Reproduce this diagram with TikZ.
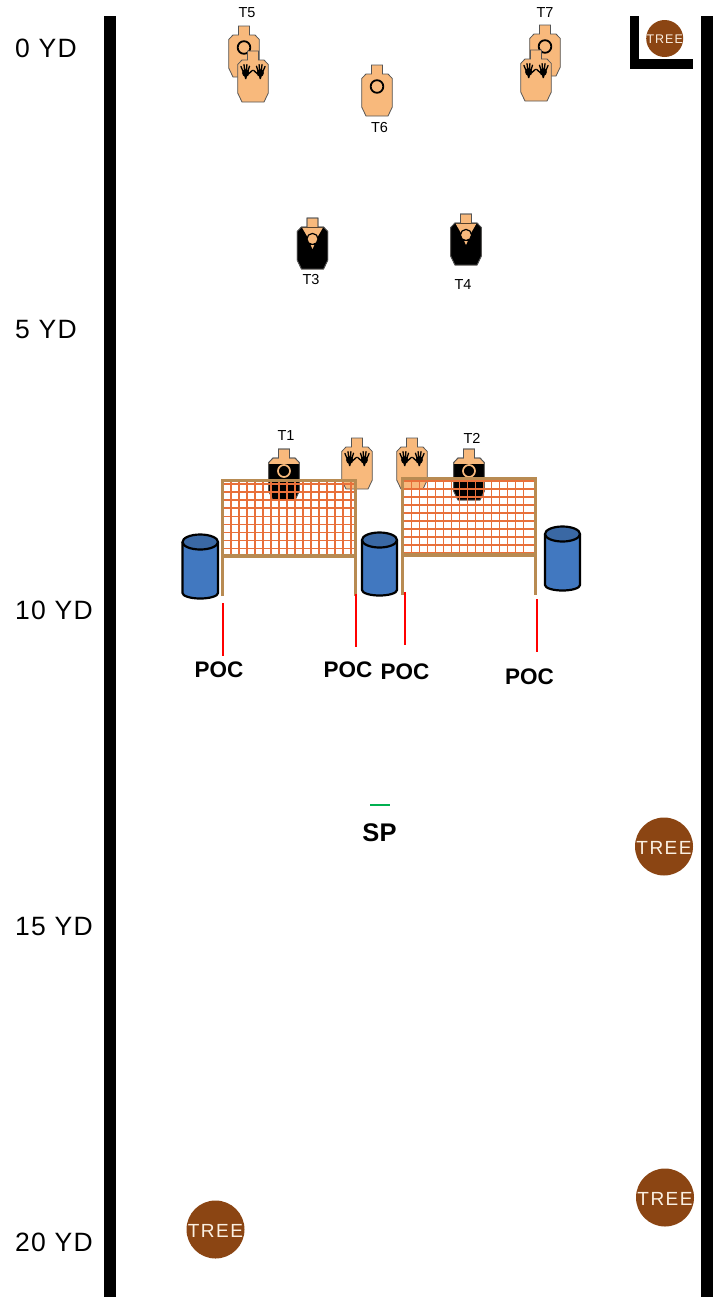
\documentclass[tikz,border=0pt]{standalone}
\usepackage{fontspec}
\setmainfont{Liberation Sans}
\newfontfamily\treefont[LetterSpace=8]{Liberation Sans}
\newfontfamily\yardfont[LetterSpace=5]{Liberation Sans}
\definecolor{peach}{HTML}{F8B97C}
\definecolor{outl}{HTML}{555555}
\definecolor{tan1}{HTML}{B88B52}
\definecolor{netc}{HTML}{E8703A}
\definecolor{barrel}{HTML}{4178C0}
\definecolor{barreltop}{HTML}{3A68A4}
\definecolor{treec}{HTML}{8B4513}
\definecolor{treet}{HTML}{FBF0E2}
\tikzset{
  wall/.style={fill=black,draw=none},
  yard/.style={anchor=west,inner sep=0pt,font=\yardfont\fontsize{26.5}{30}\selectfont},
  tlabel/.style={inner sep=0pt,font=\fontsize{14.5}{16}\selectfont},
  poc/.style={inner sep=0pt,font=\bfseries\fontsize{22.5}{26}\selectfont},
  post/.style={draw=tan1,line width=3.8pt},
  netline/.style={draw=netc,line width=1.5pt},
  redline/.style={draw=red,line width=1.9pt},
  barrelbody/.style={draw=black,line width=2.2pt,fill=barrel},
  treedisc/.style={circle,fill=treec,inner sep=0pt,text=treet,minimum size=58pt,font=\treefont\fontsize{19}{22}\selectfont},
  treesmall/.style={circle,fill=treec,inner sep=0pt,text=treet,minimum size=37pt,font=\treefont\fontsize{12.5}{15}\selectfont},
}
\def\bodypath{(-5.5,0) -- (5.5,0) -- (5.5,9) -- (11,9) -- (15.3,13.5) -- (15.3,42) -- (11,51) -- (-11,51) -- (-15.3,42) -- (-15.3,13.5) -- (-11,9) -- (-5.5,9) -- cycle}
\newcommand{\tgtbody}[2]{\draw[outl,line width=.8pt,fill=peach,shift={(#1,#2)}] \bodypath;}
\newcommand{\tgtplain}[2]{\tgtbody{#1}{#2}
  \draw[black,line width=1.8pt] (#1,#2+21.5) circle (6.3);}
\newcommand{\handglyph}[3]{\begin{scope}[shift={(#1,#2)},xscale=#3]
  \fill[black] (0,2) ellipse (3.6 and 3.8);
  \fill[black] (-2,3) -- (2,3) -- (0.6,8) -- (-0.6,8) -- cycle;
  \draw[black,line width=1.3pt,line cap=round] (-2.4,1) -- (-4.8,-4.6) (-1,0) -- (-1.7,-6.4) (.7,0) -- (1.2,-6.4) (2,1) -- (3.8,-4.8) (2.8,3) -- (6.6,-.6);
\end{scope}}
\newcommand{\tgthands}[2]{\tgtbody{#1}{#2}
  \handglyph{#1-7.3}{#2+20}{1}
  \handglyph{#1+7.3}{#2+20}{-1}}
\newcommand{\tgtvest}[2]{\tgtbody{#1}{#2}
  \begin{scope}[shift={(#1,#2)}]
  \begin{scope}\clip \bodypath; \fill[black] (-16,9) rectangle (16,52); \end{scope}
  \fill[peach] (-10.5,9.5) -- (10.5,9.5) -- (5,19) -- (-5,19) -- cycle;
  \draw[black,line width=1.2pt,fill=peach] (0,21) circle (5.6);
  \fill[peach] (-1.8,27) -- (1.8,27) -- (0,31) -- cycle;
  \draw[outl,line width=.8pt] \bodypath;
  \end{scope}}
\newcommand{\tgtcam}[2]{\tgtbody{#1}{#2}
  \begin{scope}[shift={(#1,#2)}]
  \begin{scope}\clip \bodypath; \fill[black] (-16,15) rectangle (16,52); \end{scope}
  \draw[outl,line width=.8pt] \bodypath;
  \draw[peach,line width=1.7pt] (0,22) circle (6);
  \end{scope}}
\newcommand{\barrelshape}[4]{% xl xr ytop ybot
  \draw[barrelbody] (#1,#3) -- (#1,#4-5) arc[start angle=180,end angle=0,x radius={(#2-#1)/2},y radius=5.5] -- (#2,#3);
  \draw[barrelbody,fill=barreltop] ({(#1+#2)/2},#3) ellipse ({(#2-#1)/2} and 7.5);}
\begin{document}
\begin{tikzpicture}[x=1pt,y=-1pt]
\useasboundingbox (0,0) rectangle (715,1301);
\fill[white] (0,0) rectangle (715,1301);
% walls
\fill[wall] (104,16) rectangle (116,1297);
\fill[wall] (701.3,16) rectangle (713,1297);
\fill[wall] (629.5,16) rectangle (639.3,68.7);
\fill[wall] (639.3,58.7) rectangle (692.7,68.7);
% yard labels
\node[yard] (y0) at (15,48.4) {0 YD};
\node[yard] (y5) at (15,329.6) {5 YD};
\node[yard] (y10) at (15,610.4) {10 YD};
\node[yard] (y15) at (15,926.6) {15 YD};
\node[yard] (y20) at (15,1242.4) {20 YD};
% trees
\node[treesmall] (tree0) at (664.7,38.5) {\raisebox{-5pt}[0pt][0pt]{TREE}};
\node[treedisc] (tree1) at (664,846.5) {\raisebox{-8.3pt}[0pt][0pt]{TREE}};
\node[treedisc] (tree2) at (665,1197.5) {\raisebox{-8.3pt}[0pt][0pt]{TREE}};
\node[treedisc] (tree3) at (215.5,1229.5) {\raisebox{-8.3pt}[0pt][0pt]{TREE}};
% back row
\tgtplain{244}{26}
\tgthands{253}{51}
\tgtplain{545}{25}
\tgthands{536}{50}
\tgtplain{377}{65}
\node[tlabel] (t5) at (247,13) {T5};
\node[tlabel] (t7) at (545,13) {T7};
\node[tlabel] (t6) at (379.5,127.5) {T6};
% middle row
\tgtvest{312.5}{218}
\tgtvest{466}{214}
\node[tlabel] (t3) at (311,280) {T3};
\node[tlabel] (t4) at (463,285) {T4};
% front row targets
\tgtcam{284}{449}
\tgtcam{469}{449}
\tgthands{357}{438}
\tgthands{412}{438}
\node[tlabel] (t1) at (286,436) {T1};
\node[tlabel] (t2) at (472,438) {T2};
% barrels
\barrelshape{182.5}{218}{542}{598}
\barrelshape{362}{397}{540}{595}
\barrelshape{545}{580}{534}{590}
% nets
\foreach \k in {1,...,16} \draw[netline] ({223+8*\k},481) -- ({223+8*\k},555);
\foreach \k in {0,...,8} \draw[netline] (223,{484+8*\k+.5*\k/8}) -- (355,{484+8*\k+.5*\k/8});
\foreach \k in {1,...,15} \draw[netline] ({403.7+8*\k},479) -- ({403.7+8*\k},554);
\foreach \k in {0,...,9} \draw[netline] (403,{481+8*\k}) -- (535,{481+8*\k});
\draw[post] (222.5,596) -- (222.5,480.5) -- (357,480.5);
\draw[post] (355.5,480.5) -- (355.5,596);
\draw[post] (222.5,556) -- (355.5,556);
\draw[post] (402.5,595) -- (402.5,478.5) -- (537,478.5);
\draw[post] (535.5,478.5) -- (535.5,595);
\draw[post] (402.5,555) -- (535.5,555);
% POC markers
\coordinate (r1a) at (223,603); \coordinate (r1b) at (223,656);
\coordinate (r2a) at (355.8,594); \coordinate (r2b) at (355.8,647);
\coordinate (r3a) at (404.9,592); \coordinate (r3b) at (404.9,645);
\coordinate (r4a) at (537,599); \coordinate (r4b) at (537,652);
\draw[redline] (r1a) -- (r1b);
\draw[redline] (r2a) -- (r2b);
\draw[redline] (r3a) -- (r3b);
\draw[redline] (r4a) -- (r4b);
\node[poc] (p1) at (219,670) {POC};
\node[poc] (p2) at (348,669.5) {POC};
\node[poc] (p3) at (405,672) {POC};
\node[poc] (p4) at (529.5,676.5) {POC};
% start position
\coordinate (spa) at (370,805); \coordinate (spb) at (390,805);
\draw[draw={rgb,255:red,0;green,176;blue,80},line width=1.5pt] (spa) -- (spb);
\node[inner sep=0pt,font=\bfseries\fontsize{25.5}{30}\selectfont] (sp) at (379.5,833) {SP};
\end{tikzpicture}
\end{document}
